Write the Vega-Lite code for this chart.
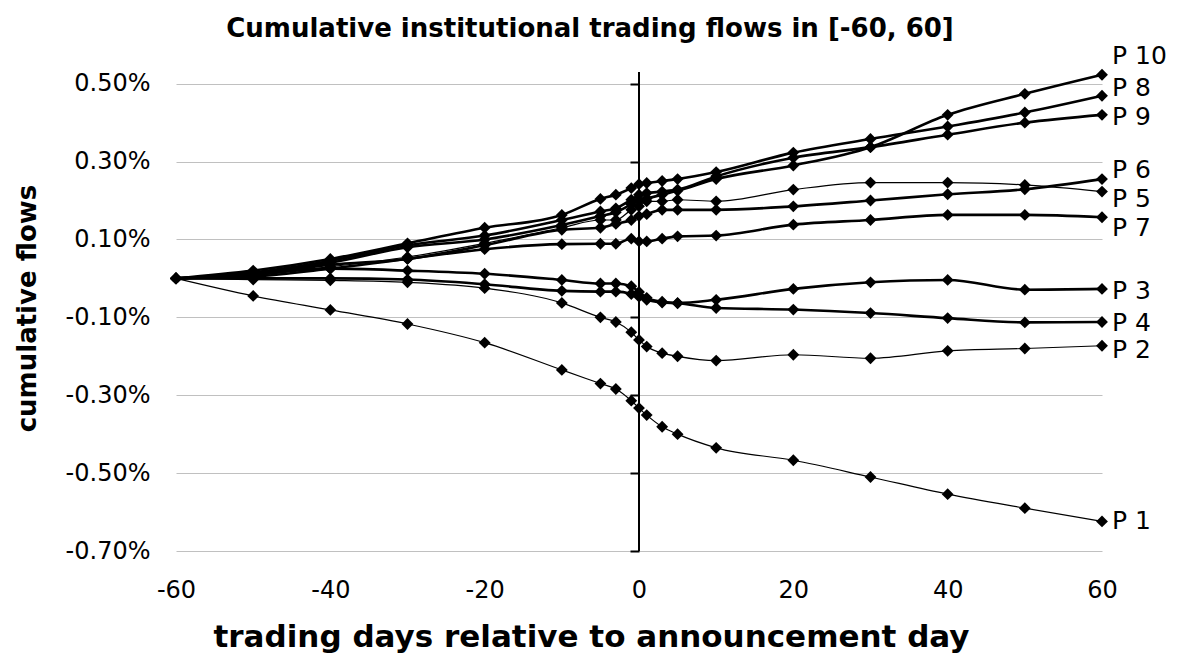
{
  "$schema": "https://vega.github.io/schema/vega-lite/v6.json",
  "width": 926,
  "height": 479,
  "autosize": "none",
  "padding": {"left": 176, "top": 72, "right": 76, "bottom": 110},
  "background": "white",
  "config": {"font": "DejaVu Sans", "view": {"stroke": null}},
  "title": {"text": "Cumulative institutional trading flows  in [-60, 60]", "frame": "group", "anchor": "middle", "dx": -49, "fontSize": 26, "fontWeight": "bold", "font": "DejaVu Sans", "color": "black", "offset": -24, "baseline": "bottom"},
  "datasets": {
    "flows": [
      {"series":"P1","day":-60,"value":0},{"series":"P1","day":-50,"value":-0.045},{"series":"P1","day":-40,"value":-0.081},{"series":"P1","day":-30,"value":-0.117},{"series":"P1","day":-20,"value":-0.165},{"series":"P1","day":-10,"value":-0.235},{"series":"P1","day":-5,"value":-0.27},{"series":"P1","day":-3,"value":-0.284},{"series":"P1","day":-1,"value":-0.314},{"series":"P1","day":0,"value":-0.333},{"series":"P1","day":1,"value":-0.351},{"series":"P1","day":3,"value":-0.381},{"series":"P1","day":5,"value":-0.4},{"series":"P1","day":10,"value":-0.435},{"series":"P1","day":20,"value":-0.467},{"series":"P1","day":30,"value":-0.51},{"series":"P1","day":40,"value":-0.554},{"series":"P1","day":50,"value":-0.59},{"series":"P1","day":60,"value":-0.624},
      {"series":"P2","day":-60,"value":0},{"series":"P2","day":-50,"value":-0.003},{"series":"P2","day":-40,"value":-0.005},{"series":"P2","day":-30,"value":-0.01},{"series":"P2","day":-20,"value":-0.025},{"series":"P2","day":-10,"value":-0.063},{"series":"P2","day":-5,"value":-0.1},{"series":"P2","day":-3,"value":-0.112},{"series":"P2","day":-1,"value":-0.138},{"series":"P2","day":0,"value":-0.158},{"series":"P2","day":1,"value":-0.175},{"series":"P2","day":3,"value":-0.192},{"series":"P2","day":5,"value":-0.2},{"series":"P2","day":10,"value":-0.211},{"series":"P2","day":20,"value":-0.196},{"series":"P2","day":30,"value":-0.205},{"series":"P2","day":40,"value":-0.186},{"series":"P2","day":50,"value":-0.18},{"series":"P2","day":60,"value":-0.173},
      {"series":"P3","day":-60,"value":0},{"series":"P3","day":-50,"value":0.01},{"series":"P3","day":-40,"value":0.025},{"series":"P3","day":-30,"value":0.02},{"series":"P3","day":-20,"value":0.012},{"series":"P3","day":-10,"value":-0.004},{"series":"P3","day":-5,"value":-0.013},{"series":"P3","day":-3,"value":-0.013},{"series":"P3","day":-1,"value":-0.02},{"series":"P3","day":0,"value":-0.035},{"series":"P3","day":1,"value":-0.05},{"series":"P3","day":3,"value":-0.06},{"series":"P3","day":5,"value":-0.063},{"series":"P3","day":10,"value":-0.055},{"series":"P3","day":20,"value":-0.027},{"series":"P3","day":30,"value":-0.01},{"series":"P3","day":40,"value":-0.004},{"series":"P3","day":50,"value":-0.029},{"series":"P3","day":60,"value":-0.027},
      {"series":"P4","day":-60,"value":0},{"series":"P4","day":-50,"value":0},{"series":"P4","day":-40,"value":0},{"series":"P4","day":-30,"value":-0.003},{"series":"P4","day":-20,"value":-0.015},{"series":"P4","day":-10,"value":-0.032},{"series":"P4","day":-5,"value":-0.034},{"series":"P4","day":-3,"value":-0.034},{"series":"P4","day":-1,"value":-0.04},{"series":"P4","day":0,"value":-0.047},{"series":"P4","day":1,"value":-0.055},{"series":"P4","day":3,"value":-0.062},{"series":"P4","day":5,"value":-0.064},{"series":"P4","day":10,"value":-0.076},{"series":"P4","day":20,"value":-0.08},{"series":"P4","day":30,"value":-0.089},{"series":"P4","day":40,"value":-0.102},{"series":"P4","day":50,"value":-0.113},{"series":"P4","day":60,"value":-0.112},
      {"series":"P5","day":-60,"value":0},{"series":"P5","day":-50,"value":0.01},{"series":"P5","day":-40,"value":0.03},{"series":"P5","day":-30,"value":0.055},{"series":"P5","day":-20,"value":0.09},{"series":"P5","day":-10,"value":0.13},{"series":"P5","day":-5,"value":0.15},{"series":"P5","day":-3,"value":0.15},{"series":"P5","day":-1,"value":0.176},{"series":"P5","day":0,"value":0.185},{"series":"P5","day":1,"value":0.198},{"series":"P5","day":3,"value":0.198},{"series":"P5","day":5,"value":0.202},{"series":"P5","day":10,"value":0.198},{"series":"P5","day":20,"value":0.228},{"series":"P5","day":30,"value":0.246},{"series":"P5","day":40,"value":0.246},{"series":"P5","day":50,"value":0.24},{"series":"P5","day":60,"value":0.223},
      {"series":"P6","day":-60,"value":0},{"series":"P6","day":-50,"value":0.008},{"series":"P6","day":-40,"value":0.035},{"series":"P6","day":-30,"value":0.05},{"series":"P6","day":-20,"value":0.085},{"series":"P6","day":-10,"value":0.125},{"series":"P6","day":-5,"value":0.13},{"series":"P6","day":-3,"value":0.14},{"series":"P6","day":-1,"value":0.15},{"series":"P6","day":0,"value":0.16},{"series":"P6","day":1,"value":0.165},{"series":"P6","day":3,"value":0.176},{"series":"P6","day":5,"value":0.176},{"series":"P6","day":10,"value":0.176},{"series":"P6","day":20,"value":0.185},{"series":"P6","day":30,"value":0.2},{"series":"P6","day":40,"value":0.216},{"series":"P6","day":50,"value":0.229},{"series":"P6","day":60,"value":0.255},
      {"series":"P7","day":-60,"value":0},{"series":"P7","day":-50,"value":0.005},{"series":"P7","day":-40,"value":0.025},{"series":"P7","day":-30,"value":0.05},{"series":"P7","day":-20,"value":0.075},{"series":"P7","day":-10,"value":0.088},{"series":"P7","day":-5,"value":0.089},{"series":"P7","day":-3,"value":0.089},{"series":"P7","day":-1,"value":0.102},{"series":"P7","day":0,"value":0.095},{"series":"P7","day":1,"value":0.095},{"series":"P7","day":3,"value":0.102},{"series":"P7","day":5,"value":0.108},{"series":"P7","day":10,"value":0.11},{"series":"P7","day":20,"value":0.138},{"series":"P7","day":30,"value":0.15},{"series":"P7","day":40,"value":0.163},{"series":"P7","day":50,"value":0.163},{"series":"P7","day":60,"value":0.157},
      {"series":"P8","day":-60,"value":0},{"series":"P8","day":-50,"value":0.02},{"series":"P8","day":-40,"value":0.05},{"series":"P8","day":-30,"value":0.09},{"series":"P8","day":-20,"value":0.13},{"series":"P8","day":-10,"value":0.163},{"series":"P8","day":-5,"value":0.204},{"series":"P8","day":-3,"value":0.215},{"series":"P8","day":-1,"value":0.232},{"series":"P8","day":0,"value":0.242},{"series":"P8","day":1,"value":0.245},{"series":"P8","day":3,"value":0.25},{"series":"P8","day":5,"value":0.255},{"series":"P8","day":10,"value":0.273},{"series":"P8","day":20,"value":0.323},{"series":"P8","day":30,"value":0.358},{"series":"P8","day":40,"value":0.39},{"series":"P8","day":50,"value":0.426},{"series":"P8","day":60,"value":0.469},
      {"series":"P9","day":-60,"value":0},{"series":"P9","day":-50,"value":0.015},{"series":"P9","day":-40,"value":0.045},{"series":"P9","day":-30,"value":0.085},{"series":"P9","day":-20,"value":0.11},{"series":"P9","day":-10,"value":0.15},{"series":"P9","day":-5,"value":0.172},{"series":"P9","day":-3,"value":0.18},{"series":"P9","day":-1,"value":0.202},{"series":"P9","day":0,"value":0.215},{"series":"P9","day":1,"value":0.219},{"series":"P9","day":3,"value":0.223},{"series":"P9","day":5,"value":0.228},{"series":"P9","day":10,"value":0.262},{"series":"P9","day":20,"value":0.31},{"series":"P9","day":30,"value":0.337},{"series":"P9","day":40,"value":0.369},{"series":"P9","day":50,"value":0.4},{"series":"P9","day":60,"value":0.42},
      {"series":"P10","day":-60,"value":0},{"series":"P10","day":-50,"value":0.012},{"series":"P10","day":-40,"value":0.04},{"series":"P10","day":-30,"value":0.08},{"series":"P10","day":-20,"value":0.1},{"series":"P10","day":-10,"value":0.137},{"series":"P10","day":-5,"value":0.16},{"series":"P10","day":-3,"value":0.17},{"series":"P10","day":-1,"value":0.19},{"series":"P10","day":0,"value":0.2},{"series":"P10","day":1,"value":0.205},{"series":"P10","day":3,"value":0.215},{"series":"P10","day":5,"value":0.225},{"series":"P10","day":10,"value":0.255},{"series":"P10","day":20,"value":0.29},{"series":"P10","day":30,"value":0.337},{"series":"P10","day":40,"value":0.42},{"series":"P10","day":50,"value":0.474},{"series":"P10","day":60,"value":0.523}
    ],
    "labels": [
      {"label":"P 10","day":60,"value":0.57},
      {"label":"P 8","day":60,"value":0.49},
      {"label":"P 9","day":60,"value":0.415},
      {"label":"P 6","day":60,"value":0.279},
      {"label":"P 5","day":60,"value":0.205},
      {"label":"P 7","day":60,"value":0.13},
      {"label":"P 3","day":60,"value":-0.032},
      {"label":"P 4","day":60,"value":-0.114},
      {"label":"P 2","day":60,"value":-0.184},
      {"label":"P 1","day":60,"value":-0.623}
    ]
  },
  "layer": [
    {
      "encoding": {
        "x": {"field": "day", "type": "quantitative", "scale": {"domain": [-60, 60], "nice": false, "zero": false},
          "axis": {"values": [-60, -40, -20, 0, 20, 40, 60], "labelExpr": "(datum.value < 0 ? '-' : '') + abs(datum.value)", "domain": false, "ticks": false, "grid": false, "labelPadding": 27, "labelFontSize": 24, "labelColor": "black", "labelFlush": false, "labelOverlap": false,
            "title": "trading days relative to announcement day", "titleFontSize": 31, "titleFontWeight": "bold", "titleColor": "black", "titleX": 415, "titleY": 86, "titleBaseline": "middle", "titleAlign": "center"}},
        "y": {"field": "value", "type": "quantitative", "scale": {"domain": [-0.7, 0.53], "nice": false, "zero": false},
          "axis": {"values": [-0.7, -0.5, -0.3, -0.1, 0.1, 0.3, 0.5], "labelExpr": "(datum.value < 0 ? '-' : '') + format(abs(datum.value), '.2f') + '%'", "domain": false, "ticks": false, "grid": true, "gridColor": "#c0c0c0", "gridWidth": 1, "labelPadding": 26, "labelFontSize": 24, "labelColor": "black", "labelOverlap": false,
            "title": "cumulative flows", "titleFontSize": 26, "titleFontWeight": "bold", "titleColor": "black", "titleX": -149, "titleY": 236, "titleAngle": -90, "titleBaseline": "middle", "titleAlign": "center"}}
      },
      "layer": [
        {"data": {"name": "flows"}, "transform": [{"filter": {"field": "series", "oneOf": ["P1", "P2", "P5"]}}],
          "mark": {"type": "line", "interpolate": "monotone", "color": "black", "strokeWidth": 1.2},
          "encoding": {"detail": {"field": "series", "type": "nominal"}}},
        {"data": {"name": "flows"}, "transform": [{"filter": {"field": "series", "oneOf": ["P3", "P4", "P6", "P7", "P8", "P9", "P10"]}}],
          "mark": {"type": "line", "interpolate": "monotone", "color": "black", "strokeWidth": 2.6},
          "encoding": {"detail": {"field": "series", "type": "nominal"}}},
        {"data": {"name": "flows"}, "mark": {"type": "point", "shape": "diamond", "filled": true, "color": "black", "size": 140, "opacity": 1}, "encoding": {}},
        {"data": {"name": "labels"}, "mark": {"type": "text", "align": "left", "baseline": "middle", "dx": 10, "fontSize": 25, "color": "black", "font": "DejaVu Sans"},
          "encoding": {"text": {"field": "label", "type": "nominal"}}}
      ]
    },
    {
      "data": {"values": [{}]},
      "mark": {"type": "rule", "color": "black", "strokeWidth": 2},
      "encoding": {
        "x": {"datum": 0, "type": "quantitative"},
        "y": {"datum": -0.7, "type": "quantitative", "scale": {"domain": [-0.7, 0.53], "nice": false, "zero": false},
          "axis": {"orient": "left", "offset": -463, "values": [-0.7, -0.5, -0.3, -0.1, 0.1, 0.3, 0.5], "domain": false, "ticks": true, "tickSize": 9, "tickWidth": 2, "tickColor": "black", "labels": false, "grid": false, "title": null}},
        "y2": {"datum": 0.53}
      }
    }
  ],
  "resolve": {"scale": {"y": "independent"}}
}
